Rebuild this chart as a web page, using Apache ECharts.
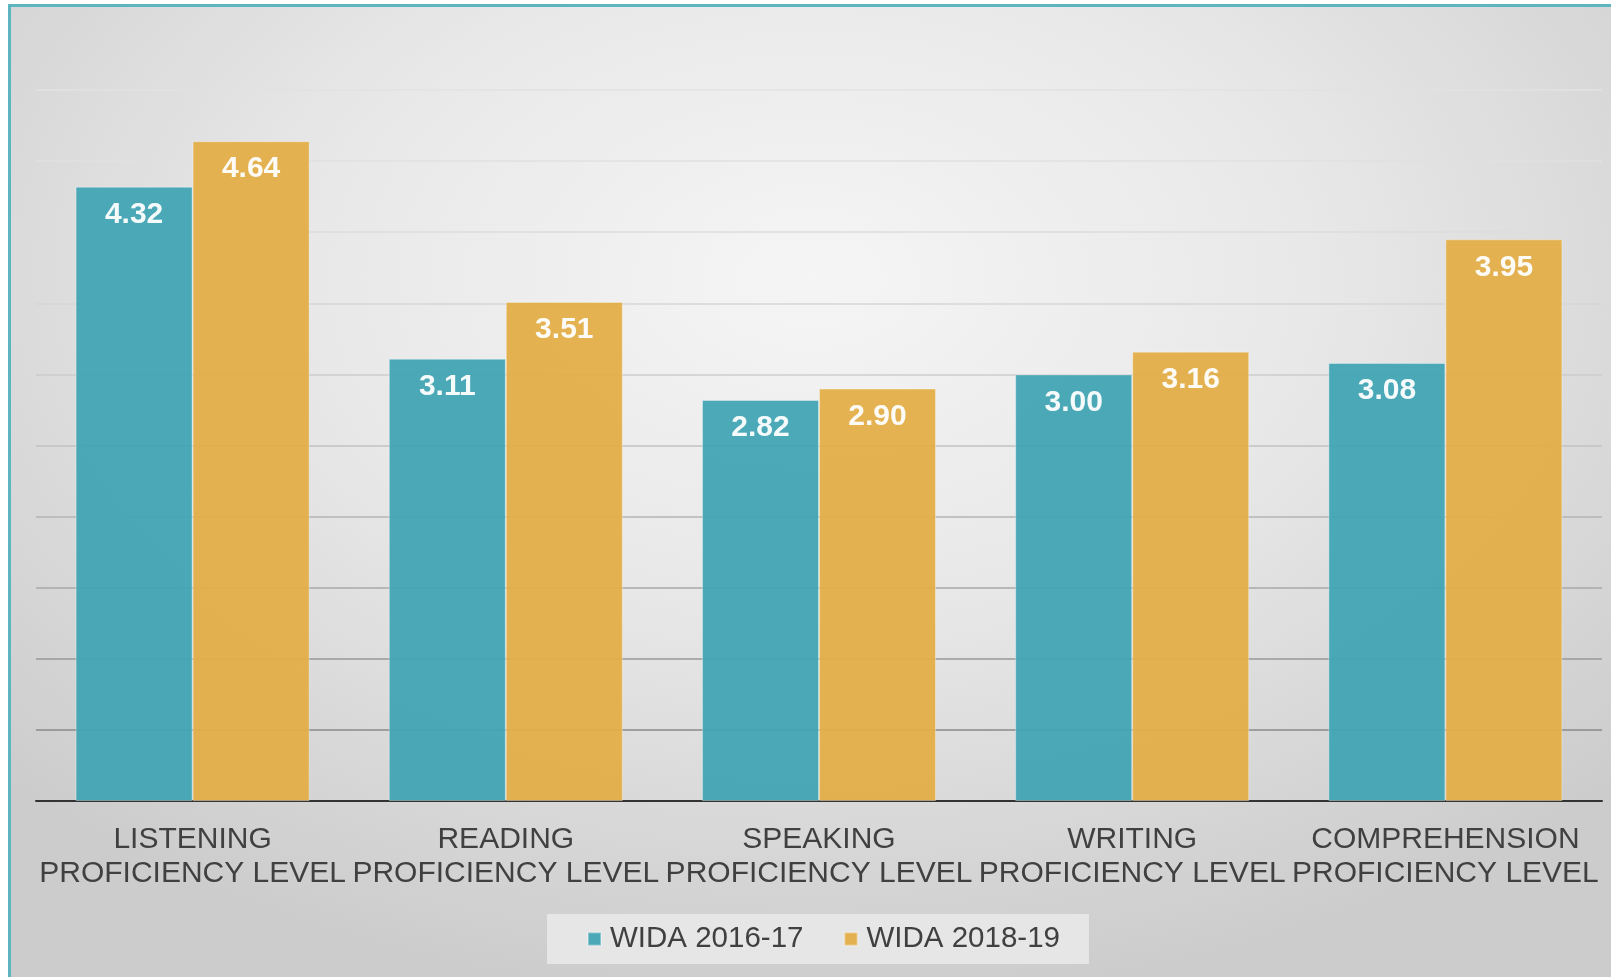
<!DOCTYPE html>
<html>
<head>
<meta charset="utf-8">
<script src="https://cdn.jsdelivr.net/npm/echarts@6/dist/echarts.min.js"></script>
<style>
  body { margin: 0; background: #ffffff; }
  #bg {
    position: absolute; left: 8px; top: 4px; width: 1603px; height: 973px;
    border-top: 3px solid #5db5c0; border-left: 3px solid #5db5c0;
    box-sizing: border-box;
    background: radial-gradient(ellipse 70% 75% at 50% 28%, #f5f5f5 0%, #e8e8e8 45%, #d6d6d6 80%, #cccccc 100%);
  }
  #chart { position: absolute; left: 0; top: 0; width: 1611px; height: 977px; }
</style>
</head>
<body>
<div id="bg"></div>
<div id="chart"></div>
<script>
var categories = [
  'LISTENING\nPROFICIENCY LEVEL',
  'READING\nPROFICIENCY LEVEL',
  'SPEAKING\nPROFICIENCY LEVEL',
  'WRITING\nPROFICIENCY LEVEL',
  'COMPREHENSION\nPROFICIENCY LEVEL'
]
var wida1617 = [4.32, 3.11, 2.82, 3.00, 3.08]
var wida1819 = [4.64, 3.51, 2.90, 3.16, 3.95]

// gridlines get darker towards the bottom
var gridColors = ['#7a7a7a', '#8a8a8a', '#999999', '#a8a8a8', '#b5b5b5', '#c2c2c2', '#cccccc', '#d6d6d6', '#dcdcdc', '#e0e0e0', '#e2e2e2']

var labelStyle = {
  show: true,
  position: 'insideTop',
  distance: 13,
  formatter: function (p) { return p.value.toFixed(2) },
  color: '#ffffff',
  fontWeight: 'bold',
  fontSize: 30,
  fontFamily: 'Liberation Sans, Arial'
}

var myChart = echarts.init(document.getElementById('chart'))
myChart.setOption({
  animation: false,
  grid: {
    left: 36,
    right: 9,
    top: 90,
    bottom: 176
  },
  legend: {
    data: ['WIDA 2016-17', 'WIDA 2018-19'],
    bottom: 13,
    left: 547,
    icon: 'rect',
    itemWidth: 13,
    itemHeight: 13,
    itemGap: 40,
    padding: [10, 29, 10, 40],
    backgroundColor: '#e6e6e6',
    textStyle: {
      fontFamily: 'Liberation Sans, Arial',
      fontSize: 29.5,
      color: '#404040',
      padding: [0, 0, 0, 4]
    }
  },
  xAxis: {
    type: 'category',
    data: categories,
    axisLine: { lineStyle: { color: '#333333', width: 2 } },
    axisTick: { show: false },
    axisLabel: {
      interval: 0,
      margin: 22,
      fontFamily: 'Liberation Sans, Arial',
      fontSize: 30,
      lineHeight: 34,
      color: '#404040'
    }
  },
  yAxis: {
    type: 'value',
    min: 0,
    max: 5,
    interval: 0.5,
    axisLabel: { show: false },
    axisLine: { show: false },
    axisTick: { show: false },
    splitLine: { lineStyle: { color: gridColors, width: 1.5 } }
  },
  series: [
    {
      name: 'WIDA 2016-17',
      type: 'bar',
      data: wida1617,
      barWidth: 117,
      barGap: '0%',
      itemStyle: { color: '#41a4b4', opacity: 0.95, borderColor: 'rgba(255,255,255,0.35)', borderWidth: 1 },
      label: labelStyle
    },
    {
      name: 'WIDA 2018-19',
      type: 'bar',
      data: wida1819,
      barWidth: 117,
      itemStyle: { color: '#e3ae48', opacity: 0.95, borderColor: 'rgba(255,255,255,0.35)', borderWidth: 1 },
      label: labelStyle
    }
  ]
})
</script>
</body>
</html>
